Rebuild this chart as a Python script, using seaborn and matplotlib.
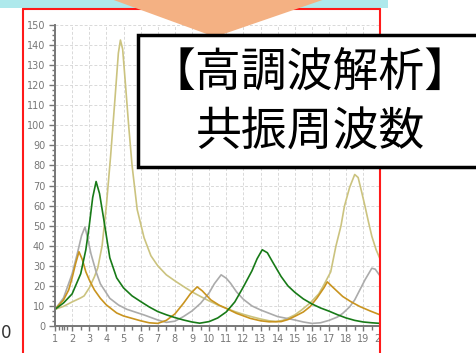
import matplotlib
matplotlib.use("Agg")
import matplotlib.pyplot as plt
from matplotlib.patches import Rectangle, Polygon
from matplotlib.lines import Line2D
from matplotlib.ticker import MultipleLocator, FixedLocator
import seaborn as sns
import pandas as pd

# Harmonic analysis: impedance curves against harmonic order
green_x = [1.0, 1.5, 2.0, 2.5, 2.8, 3.0, 3.2, 3.4, 3.6, 3.85, 4.2, 4.6, 5.0, 5.5, 6.0,
           6.5, 7.0, 7.5, 8.0, 8.5, 9.0, 9.45, 10.0, 10.5, 11.0, 11.5, 12.0, 12.5,
           12.8, 13.1, 13.4, 13.7, 14.2, 14.6, 15.0, 15.5, 16.0, 16.5, 17.0, 17.5,
           18.0, 18.5, 19.0, 19.5, 20.0]
green_y = [8.3, 11.5, 16, 26, 38, 50, 64, 72, 66, 53, 34, 24, 19, 15, 12.2,
           9.5, 7.2, 5.6, 4.2, 3, 2, 1.4, 2.2, 4, 7, 12, 19.5, 27.5,
           33.5, 38, 36.5, 32, 24.7, 20, 16.8, 13.5, 11, 9, 7.4, 5.6,
           4, 2.8, 2, 1.6, 1.3]

orange_x = [1.0, 1.5, 1.8, 2.0, 2.2, 2.4, 2.6, 2.8, 3.0, 3.3, 3.65, 4.0, 4.6, 5.0, 5.5,
            6.0, 6.5, 7.0, 7.5, 8.0, 8.5, 8.9, 9.3, 9.6, 10.1, 10.6, 11.0, 11.6,
            12.4, 13.0, 13.5, 14.2, 14.6, 15.0, 15.5, 15.9, 16.3, 16.7, 16.9, 17.2,
            17.8, 18.3, 18.8, 19.4, 20.0]
orange_y = [8.3, 13, 18, 24, 31, 37, 33, 27, 23, 18, 13.8, 10.5, 6.5, 5, 3.8,
            2.6, 1.6, 1.3, 2.8, 6, 11.3, 16, 19.5, 17.5, 13, 10.3, 8.8, 6.3,
            3.8, 2.6, 2.1, 2.2, 3.2, 4.8, 7, 9.7, 14, 19, 22, 19.5,
            14.7, 12, 9.7, 7.5, 5.5]

gray_x = [1.0, 1.5, 2.0, 2.3, 2.55, 2.75, 2.9, 3.1, 3.4, 3.65, 4.2, 4.7, 5.2, 6.2, 7.0,
          7.5, 8.0, 8.5, 9.0, 9.5, 10.0, 10.3, 10.7, 11.0, 11.25, 11.6, 12.0, 12.5,
          13.0, 14.0, 15.0, 15.5, 16.0, 16.5, 17.0, 17.5, 17.8, 18.2, 18.5, 18.8,
          19.1, 19.5, 19.7, 20.0]
gray_y = [8.3, 14, 26, 36, 45, 49.3, 44, 36, 27, 21, 13.8, 10.5, 8.3, 5.5, 3,
          1.8, 2.4, 4.7, 7.5, 11.3, 16.5, 21, 25.5, 23.8, 21.3, 17, 13.3, 10,
          8, 4.7, 3, 2, 1.3, 1.6, 2.8, 4.5, 6.3, 9.5, 13, 18,
          23, 28.8, 28.3, 24.7]

khaki_x = [1.0, 1.5, 2.0, 2.5, 2.7, 3.0, 3.3, 3.5, 3.75, 4.0, 4.25, 4.5, 4.7, 4.82,
           4.95, 5.1, 5.3, 5.5, 5.8, 6.2, 6.6, 7.0, 7.5, 8.0, 8.5, 9.0, 9.5, 10.0,
           10.5, 11.0, 11.5, 12.0, 12.5, 13.0, 13.5, 13.9, 14.3, 14.7, 15.0, 15.4,
           15.9, 16.4, 16.7, 17.1, 17.4, 17.7, 17.9, 18.2, 18.5, 18.7, 18.9, 19.1,
           19.3, 19.5, 19.75, 20.0]
khaki_y = [8.3, 9.8, 12, 14, 15, 19, 24.5, 29, 40, 60, 85, 113, 136, 142.5,
           138, 122, 100, 80, 58, 44, 35, 30, 25.5, 22.5, 19.7, 17, 14.7, 12.5,
           10.5, 8.8, 7.2, 5.8, 4.6, 3.5, 2.6, 2.2, 2.8, 4.3, 5.5, 8,
           11.5, 16, 20.5, 27, 39.7, 50, 59.7, 69, 75.5, 74, 67, 59.7,
           52, 44.7, 38, 33]

x_ticks = list(range(1, 21))
y_ticks = list(range(0, 151, 10))
title_lines = ["【高調波解析】", "共振周波数"]

frames = []
for name, xs, ys in [("khaki", khaki_x, khaki_y), ("gray", gray_x, gray_y),
                     ("orange", orange_x, orange_y), ("green", green_x, green_y)]:
    frames.append(pd.DataFrame({"order": xs, "value": ys, "series": name}))
df = pd.concat(frames, ignore_index=True)

palette = {"khaki": "#cbc37f", "gray": "#ababab", "orange": "#c9941f", "green": "#177a17"}

sns.set_theme(style="white")
plt.rcParams["font.family"] = ["Liberation Sans Narrow", "DejaVu Sans"]

W, H = 476, 353
fig = plt.figure(figsize=(W / 100, H / 100), dpi=100)
fig.patch.set_facecolor("white")


def fx(px):
    return px / W


def fy(py):
    return 1 - py / H


ax = fig.add_axes([fx(55), fy(326), (380.4 - 55) / W, 301 / H])
sns.lineplot(data=df, x="order", y="value", hue="series", palette=palette,
             estimator=None, sort=False, legend=False, linewidth=1.2, ax=ax)

ax.set_xlim(1, 20)
ax.set_ylim(0, 150)
ax.set_xlabel("")
ax.set_ylabel("")
ax.set_facecolor("white")

ax.xaxis.set_major_locator(FixedLocator(x_ticks))
ax.xaxis.set_minor_locator(FixedLocator([1.25, 1.4, 1.55, 1.7] + [v + 0.5 for v in range(2, 20)]))
ax.yaxis.set_major_locator(FixedLocator(y_ticks))
ax.yaxis.set_minor_locator(MultipleLocator(2.5))

ax.grid(True, which="major", color="#d9d9d9", linestyle=(0, (3, 2)), linewidth=0.7)
for side in ("top", "right"):
    ax.spines[side].set_visible(False)
for side in ("left", "bottom"):
    ax.spines[side].set_color("#777777")
    ax.spines[side].set_linewidth(1.4)

ax.tick_params(axis="both", which="both", colors="#777777", labelcolor="#777777",
               labelsize=7, width=1.0)
ax.tick_params(axis="y", which="major", length=4.5, pad=2.5, left=True)
ax.tick_params(axis="y", which="minor", length=2.5, left=True)
ax.tick_params(axis="x", which="major", length=3.5, pad=2, bottom=True)
ax.tick_params(axis="x", which="minor", length=3.0, bottom=True)

# Slide decorations around the chart
fig.add_artist(Rectangle((fx(0), fy(8.3)), fx(388), 8.3 / H, transform=fig.transFigure,
                         facecolor="#aee9ec", edgecolor="none", zorder=4))

# the chart frame hides everything to the right of its edge
fig.add_artist(Rectangle((fx(381), fy(360)), fx(100), (360 - 9) / H,
                         transform=fig.transFigure, facecolor="white",
                         edgecolor="none", zorder=4.5))

red = "#ff1a1a"
for (x0, y0, x1, y1) in [(23, 9, 23, 360), (23, 9, 380, 9), (380, 9, 380, 360)]:
    fig.add_artist(Line2D([fx(x0), fx(x1)], [fy(y0), fy(y1)], transform=fig.transFigure,
                          color=red, linewidth=1.5, zorder=5))

fig.add_artist(Polygon([(fx(100), fy(-5)), (fx(337), fy(-5)), (fx(215), fy(37))],
                       closed=True, transform=fig.transFigure,
                       facecolor="#f4b183", edgecolor="none", zorder=6))

fig.add_artist(Rectangle((fx(138), fy(167)), fx(520 - 138), (167 - 35) / H,
                         transform=fig.transFigure, facecolor="white",
                         edgecolor="black", linewidth=2.5, zorder=8))

cjk = ["Noto Sans CJK JP", "DejaVu Sans"]
fig.text(fx(310), fy(73), title_lines[0], ha="center", va="center", fontsize=33,
         family=cjk, color="black", zorder=9)
fig.text(fx(310), fy(132), title_lines[1], ha="center", va="center", fontsize=33,
         family=cjk, color="black", zorder=9)

fig.text(fx(1), fy(333), "0", ha="left", va="center", fontsize=12,
         family=["DejaVu Sans"], color="#333333", zorder=9)

fig.savefig("out.png", dpi=100)
